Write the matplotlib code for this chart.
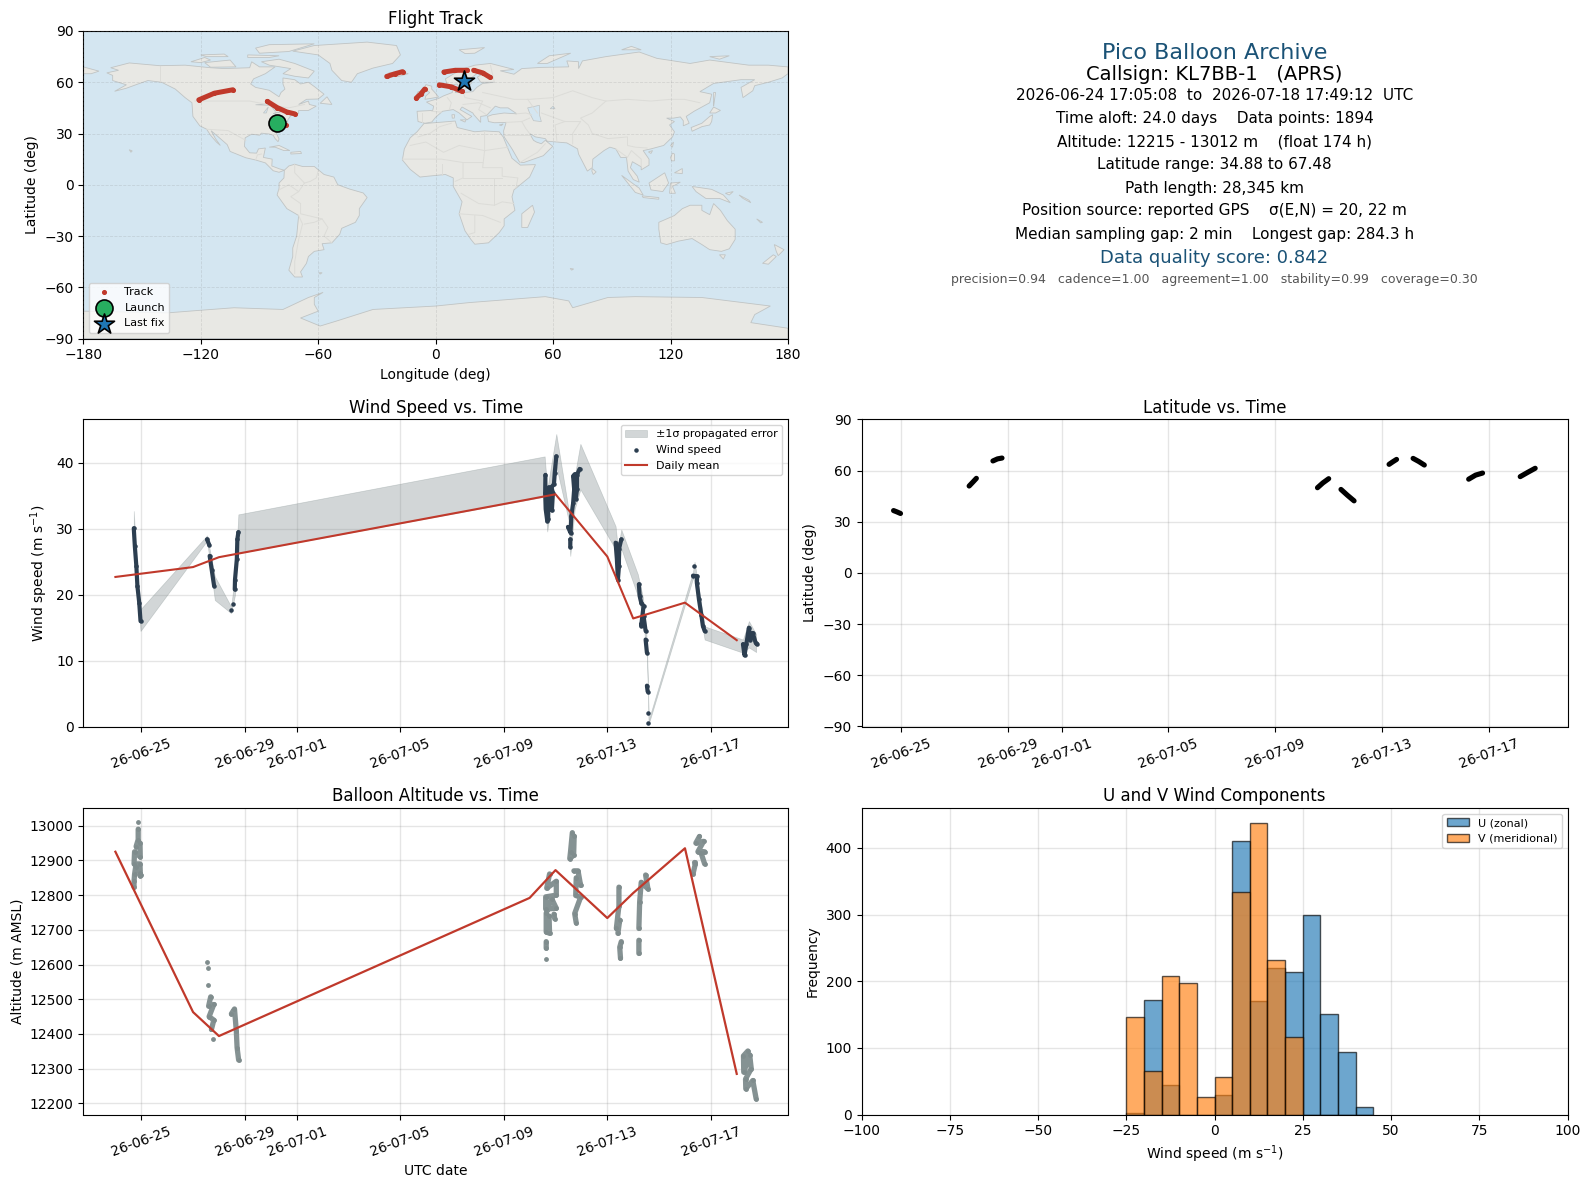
from datetime import datetime
import numpy as np
import matplotlib
matplotlib.use("Agg")
import matplotlib.pyplot as plt
import matplotlib.dates as mdates

nan = float("nan")
RED = "#c0392b"
NAVY = "#2c3e50"
GREY = "#7f8c8d"
TITLE_BLUE = "#1a5276"

# times are days since 2026-06-24 00:00, nan breaks a run of fixes
wind_t = [0.71, 0.75, 0.81, 0.85, 0.92, 0.97, nan,
          3.54, 3.62, nan, 3.64, 3.72, 3.81, nan,
          4.47, nan, 4.55, nan, 4.61, 4.62, 4.69, 4.71, 4.75, nan,
          16.61, 16.60, 16.62, 16.68, 16.72, 16.70, 16.66, 16.74, 16.80, 16.78, 16.86, 16.90, 16.84, 16.94, 16.97, 17.03, nan,
          17.57, 17.57, nan, 17.48, 17.58, 17.61, 17.68, 17.72, 17.68, 17.74, 17.78, 17.83, 17.83, 17.93, nan,
          19.32, 19.37, 19.41, 19.45, 19.45, 19.54, nan,
          20.22, 20.25, 20.31, 20.40, 20.31, 20.40, 20.48, nan, 20.48, 20.53, nan,
          20.53, 20.56, nan, 20.57, nan, 20.59, nan,
          22.35, nan, 22.31, 22.47, 22.46, 22.54, 22.63, 22.69, 22.76, nan,
          24.24, 24.30, 24.37, 24.47, 24.52, 24.62, 24.73, 24.78]
wind_v = [30.1, 27.4, 24.3, 21.3, 18.8, 16.0, nan,
          28.4, 27.6, nan, 25.9, 23.8, 21.4, nan,
          17.7, nan, 18.6, nan, 20.8, 22.3, 25.4, 28.4, 29.5, nan,
          38.2, 35.5, 33.0, 31.2, 31.5, 34.0, 36.0, 36.3, 33.0, 35.5, 32.8, 35.5, 36.3, 36.8, 38.5, 41.0, nan,
          27.3, 28.4, nan, 30.3, 29.4, 31.9, 33.9, 36.0, 38.0, 38.3, 34.5, 36.0, 38.2, 39.1, nan,
          27.9, 25.4, 22.3, 24.3, 26.9, 28.4, nan,
          21.6, 19.8, 18.8, 18.3, 15.3, 16.8, 14.5, nan, 13.2, 11.2, nan,
          6.2, 5.3, nan, 2.1, nan, 0.6, nan,
          24.4, nan, 22.9, 22.8, 21.8, 19.3, 17.0, 15.3, 14.5, nan,
          12.5, 10.8, 12.5, 15.0, 13.2, 14.2, 12.7, 12.5]

band_t = [0.71, 0.85, 0.97, 3.54, 3.84, 4.47, 4.62, 4.72, 4.75, 16.58, 16.68, 17.03,
          17.50, 17.57, 17.74, 17.96, 19.32, 19.41, 19.54, 20.18, 20.38, 20.50, 20.53,
          20.57, 20.60, 22.31, 22.37, 22.76, 24.24, 24.47, 24.75]
band_lo = [29.0, 20.0, 14.5, 28.2, 19.2, 17.2, 20.0, 27.5, 26.3, 34.9, 29.6, 39.5,
           31.4, 25.9, 33.0, 36.0, 26.9, 22.0, 27.0, 19.8, 16.5, 11.5, 10.5,
           5.0, 0.4, 22.5, 22.0, 13.2, 11.2, 12.0, 11.3]
band_hi = [32.7, 22.5, 17.8, 29.0, 22.8, 18.2, 23.0, 30.0, 32.2, 41.0, 36.0, 44.4,
           33.0, 31.0, 38.0, 42.9, 30.4, 27.0, 29.9, 23.1, 19.5, 14.5, 12.5,
           6.5, 1.0, 23.5, 25.0, 15.2, 13.2, 16.0, 14.0]

mean_days = [0, 3, 4, 16, 17, 19, 20, 22, 24]
wind_mean = [22.7, 24.2, 25.7, 34.5, 35.25, 25.8, 16.4, 18.8, 13.1]
alt_mean = [12925, 12463, 12394, 12792, 12872, 12734, 12806, 12935, 12285]

alt_t = [0.88, nan, 0.88, 0.88, 0.80, 0.95, 0.96, 0.74, 0.72, 0.95, 0.96, 0.78, 0.74, 0.72, 0.72, nan, 0.95, 0.98, nan,
         3.54, nan, 3.58, nan, 3.58, nan, 3.68, 3.60, 3.80, 3.62, 3.80, 3.71, nan, 3.77, nan,
         4.48, 4.60, 4.67, 4.70, 4.76, nan,
         16.77, 16.66, 17.03, 17.03, 16.62, 16.62, 17.03, 16.85, 16.64, 16.64, 16.77, 16.75, nan,
         16.97, 16.94, nan, 16.64, 16.64, nan, 16.64, nan,
         17.65, 17.58, 17.55, 17.70, 17.72, nan, 17.71, 17.87, 17.97, 17.80, 17.78, 17.97, 17.74, 17.80, nan,
         19.45, 19.45, 19.35, 19.48, 19.41, nan, 19.54, 19.48, 19.51, nan,
         20.48, 20.57, 20.31, 20.25, 20.22, nan, 20.22, 20.22, nan,
         22.56, 22.42, 22.72, 22.50, 22.76, 22.63, 22.76, nan, 22.37, 22.40, 22.31, nan,
         24.43, 24.26, 24.27, 24.50, 24.56, 24.34, 24.35, 24.62, 24.75]
alt_v = [13011, nan, 12990, 12960, 12940, 12950, 12910, 12925, 12890, 12890, 12865, 12880, 12860, 12840, 12823, nan, 12856, 12858, nan,
         12606, nan, 12591, nan, 12540, nan, 12507, 12480, 12485, 12450, 12440, 12413, nan, 12385, nan,
         12458, 12472, 12409, 12361, 12325, nan,
         12861, 12820, 12840, 12800, 12795, 12760, 12762, 12790, 12748, 12694, 12690, 12740, nan,
         12732, 12745, nan, 12666, 12647, nan, 12616, nan,
         12980, 12925, 12905, 12915, 12970, nan, 12870, 12870, 12828, 12850, 12799, 12794, 12747, 12720, nan,
         12823, 12770, 12704, 12728, 12690, nan, 12666, 12650, 12618, nan,
         12858, 12818, 12837, 12780, 12704, nan, 12670, 12632, nan,
         12969, 12950, 12955, 12925, 12925, 12920, 12890, nan, 12894, 12890, 12861, nan,
         12351, 12337, 12290, 12340, 12300, 12270, 12242, 12266, 12213]

lat_t = [0.71, 0.84, 0.97, nan, 3.54, 3.68, 3.81, nan, 4.43, 4.60, 4.77, nan,
         16.58, 16.78, 17.0, nan, 17.46, 17.70, 17.95, nan,
         19.26, 19.40, 19.54, nan, 20.16, 20.37, 20.58, nan,
         22.24, 22.50, 22.76, nan, 24.17, 24.45, 24.73]
lat_v = [36.6, 35.8, 34.9, nan, 51.0, 53.3, 55.5, nan, 65.7, 66.9, 67.4, nan,
         50.0, 52.8, 55.3, nan, 49.0, 45.6, 42.3, nan,
         63.7, 65.2, 66.6, nan, 67.2, 65.4, 63.3, nan,
         55.0, 57.4, 58.6, nan, 56.5, 59.0, 61.4]

track_lon = [-76.6, nan, -86, -81, -76, -72, nan, -121, -113, -103.6, nan, -25, -21, -16.9, nan,
             -9.9, -7.5, -5.6, nan, 1.9, 8, 13.6, nan, 4.2, 10, 16, nan, 19.4, 24, 27.6]
track_lat = [34.9, nan, 48.8, 45.2, 42.6, 41.5, nan, 49.7, 53.6, 55.6, nan, 63.4, 64.9, 66.2, nan,
             50.7, 53.3, 56, nan, 58.5, 57.3, 54.6, nan, 66, 67, 67, nan, 67, 65.5, 63]
launch_lon, launch_lat = -81.3, 36.0
last_lon, last_lat = 14.3, 60.5

hist_edges = [-25, -20, -15, -10, -5, 0, 5, 10, 15, 20, 25, 30, 35, 40]
u_counts = [3, 172, 45, 0, 0, 30, 411, 171, 220, 214, 300, 151, 94, 11]
v_counts = [146, 66, 208, 198, 27, 57, 334, 438, 232, 117, 0, 0, 0, 0]

info_lines = ["Pico Balloon Archive", "Callsign: KL7BB-1   (APRS)",
              "2026-06-24 17:05:08  to  2026-07-18 17:49:12  UTC",
              "Time aloft: 24.0 days    Data points: 1894",
              "Altitude: 12215 - 13012 m    (float 174 h)",
              "Latitude range: 34.88 to 67.48",
              "Path length: 28,345 km",
              "Position source: reported GPS    \u03c3(E,N) = 20, 22 m",
              "Median sampling gap: 2 min    Longest gap: 284.3 h",
              "Data quality score: 0.842",
              "precision=0.94   cadence=1.00   agreement=1.00   stability=0.99   coverage=0.30"]

# rough coastlines, lon/lat pairs
land = [
    [(-168,65.5),(-162,67),(-166,68.5),(-156.5,71.3),(-141,69.7),(-128,70),(-115,68.5),(-108,68),(-95,68.5),(-94,72),(-90,69),(-82,69),(-87,65),(-93,62),(-94.5,59),(-92,57),(-85,55.3),(-82,53),(-80,51.5),(-79,54),(-77,56),(-78,59),(-78,62.5),(-72,61.5),(-69,59),(-65,60),(-62,57.5),(-57,53),(-60,50.2),(-66,50),(-70,47),(-65,49),(-64.5,47),(-61,46),(-65,43.5),(-70,43.5),(-70,41.7),(-74,40.5),(-75.5,38),(-76,35.2),(-78,33.8),(-81,32),(-81.3,30),(-80,26.8),(-80.5,25.2),(-82,27),(-83,29),(-85,29.7),(-89,30.2),(-90,29),(-94,29.6),(-97.3,27.5),(-97.7,22.5),(-95,18.7),(-91.5,18.5),(-90.5,21),(-87,21.5),(-88,16),(-83.5,15),(-83.7,11),(-79.8,9.3),(-77.3,8.5),(-80,7.3),(-83,8.2),(-87,12.8),(-92,14.5),(-97,15.8),(-105,19.5),(-106.5,23.5),(-112,29),(-114.7,31.6),(-112.5,27),(-110,23),(-112,25),(-115,29),(-117,32.5),(-120.5,34.5),(-124,40),(-124.5,48),(-128,51),(-133,56),(-140,60),(-147,61),(-152,59),(-158,56.5),(-164,54.7),(-158,58.5),(-165,61),(-165,64)],
    [(-73,78.2),(-62,81.5),(-35,83.5),(-20,81.5),(-18,76),(-22,71),(-32,68.3),(-40,65),(-43,60),(-48,61),(-53,67),(-54,71),(-60,76)],
    [(-80,73.5),(-72,71),(-62,66.5),(-65,62.5),(-72,63.5),(-78,65),(-74,68),(-85,70),(-89,72)],
    [(-118,71.5),(-105,73),(-102,69),(-115,68.8)],
    [(-90,77),(-75,78),(-62,82.5),(-85,82),(-92,80)],
    [(-125,72),(-118,74.5),(-115,73),(-120,71.5)],
    [(-96,76),(-80,75.5),(-85,74.5),(-96,74.5)],
    [(-120,76),(-108,76.5),(-106,75),(-117,75)],
    [(-59,47.7),(-55.5,51.5),(-53,47)],
    [(-85,22),(-80,23),(-74.5,20),(-77.5,20),(-82,22)],
    [(-74,19),(-69,19.5),(-68.5,18.3),(-74,18)],
    [(-156.5,20.5),(-155,19.8),(-155.7,19)],
    [(-77.3,8.5),(-75,11),(-72,12),(-68,10.7),(-62,10.7),(-57,6),(-52,4.5),(-50,0),(-44,-2.5),(-37,-4.8),(-35,-7.5),(-39,-14),(-39,-18),(-41,-22),(-48,-25.5),(-49,-29),(-53,-34),(-58,-34.5),(-57,-38),(-62,-39),(-65,-42),(-66,-46),(-69,-51),(-68,-54),(-72,-54),(-75,-50),(-73,-42),(-73,-37),(-71,-30),(-70,-18),(-76,-14),(-81,-6),(-80,-2),(-80,1),(-77.5,4)],
    [(-6,35.8),(10,37.3),(11,33.5),(20,31),(25,31.5),(32.5,31),(34.5,28),(37,21),(39,15.5),(43.3,11.5),(51,11.8),(48,4.5),(40,-3),(39,-7),(40.5,-15),(35,-20),(35,-24),(32.5,-28),(27,-34),(20,-34.8),(18,-32),(15,-27),(12,-17),(13.5,-10),(9,-1),(9,4),(5,6),(-4,5),(-8,4.5),(-13,9),(-17,14.5),(-16,21),(-13,27.5),(-9.5,31)],
    [(-9,37),(-9.5,43),(-1.5,43.5),(-1,46),(-4.7,48.4),(1.5,50.5),(4,52),(8.5,54),(8.5,57),(10.8,56),(10,54),(14,54),(19,54.5),(21,57),(24,59.3),(30,60),(23,60),(21.3,63),(25,65.5),(22,65.8),(17.5,62),(18.5,60),(16.5,56.5),(13,55.5),(11,59),(6,58),(5,62),(13,67.5),(20,70),(28,71),(40,67.5),(33,66.7),(40,64.7),(44,68),(54,68.7),(68,69),(67,72.5),(73,72),(73,68),(75,72.5),(87,75),(104,77.7),(113,74),(130,71),(140,73),(160,70),(170,70),(180,69),(180,65),(177,62.5),(170,60),(163,58),(162,55),(157,51),(156,57),(163,61.5),(156,61.5),(142,59.3),(135,54.5),(141,53),(140,48),(132,43),(128,40),(129.5,36),(126.5,34.5),(126.5,37.5),(125,39.7),(121.5,39),(118,39),(122,37),(119.5,35),(122,31),(121,28),(116.5,23),(110,21),(106,20),(109,15),(109,11.5),(105,8.7),(105,10.5),(100.5,13.5),(99.5,10),(103,5),(104,1.5),(101,3),(98.3,8),(97.5,16),(94.5,16),(92,21),(89,22),(86,20),(80.3,15),(80,10),(77.5,8),(73,18),(72.5,21),(67,24.5),(57,25.5),(56,27),(51,28),(48,30),(50,26),(51.5,25),(54,24),(56,26),(59.8,22.5),(55,17),(45,13),(43,13),(39,21),(35,28),(34.7,31.5),(36,36.5),(30,36.3),(27,37),(26.5,40),(29,41),(35,42),(41.5,41.5),(37,45),(33,45),(30.5,46),(28,43),(26,40.5),(23,40),(23,36.5),(19.5,41),(19,42),(13.5,45.5),(12.5,44),(18.5,40),(16,38),(12,42),(9,44),(3.5,43),(0,39.5),(-2,36.7),(-5.5,36)],
    [(-180,69),(-172,66.5),(-176,65),(-180,65)],
    [(-5.5,50),(1.5,51.3),(0,53.5),(-2,56),(-2,57.7),(-5,58.6),(-6,56),(-3,54),(-5,52)],
    [(-10,52),(-6,52.2),(-6,55),(-9,54.5)],
    [(-24,65.5),(-18,66.3),(-14,65),(-19,63.4),(-23,64)],
    [(12,79),(25,80.3),(20,77),(15,76.8)],
    [(52,71),(57,71),(69,77),(58,75.5)],
    [(95,79),(105,79),(100,81)],
    [(140,75),(150,75.5),(145,73.5)],
    [(12.5,38),(15.5,38),(15,36.7)],
    [(8.3,41),(9.7,41),(9.5,39),(8.5,39)],
    [(32.5,35),(34.5,35.6),(33.5,34.6)],
    [(49.5,-12),(50.5,-16),(47,-25),(44,-25),(44,-17)],
    [(80,9.5),(82,7.5),(80.5,6),(79.8,8)],
    [(130.5,33.5),(136,36),(140,40),(141.5,41),(141,37),(140,35),(136,34),(131,31.3)],
    [(140,42),(142,45.5),(145.5,43.5),(143,42)],
    [(142,46),(143,54),(142,54),(142,49)],
    [(120,23),(121.5,25),(121,22)],
    [(108.7,19.2),(110.8,20),(110,18.3)],
    [(120,16),(121,18.5),(122,18),(122,14),(120.5,14)],
    [(122,7),(126,9.5),(126,6.5)],
    [(109,1),(117,7),(119,1),(116,-4),(110,-3)],
    [(95,5.5),(104,-2),(106,-6),(102,-4.5)],
    [(105.5,-6.5),(114,-7.5),(114,-8.5),(106,-7.5)],
    [(119.5,-5),(120,1),(125,1.5),(121,-1),(122.5,-5)],
    [(131,-1),(141,-2.7),(147,-6),(150.5,-10.5),(145,-8),(138,-8),(133,-4)],
    [(148,-5),(152,-4),(150,-6)],
    [(155,-6),(160,-9),(161,-10.5),(157,-8)],
    [(114,-22),(122,-18),(126,-14),(130,-12),(136,-12),(136,-15),(140,-17.5),(142,-11),(145.5,-15),(149,-21),(153,-26),(153,-32),(150,-37.5),(146,-39),(140,-38),(136,-35),(131,-31.5),(124,-33),(118,-35),(115,-34),(114,-26)],
    [(145,-41),(148,-41),(147,-43.5)],
    [(173,-35),(178,-38),(175,-41.5),(174,-39)],
    [(172.5,-41),(174,-42),(170,-46.5),(167,-46)],
    [(164,-20),(167,-22),(166,-22.3)],
    [(-59.5,-51.5),(-58,-51.5),(-59,-52.3)],
    [(68.7,-49),(70.5,-49.3),(69.5,-50)],
    [(-180,-90),(-180,-74),(-137,-75),(-120.4,-73.5),(-103,-72),(-78,-73),(-65,-66),(-57.5,-63),(-62,-66),(-62,-70),(-60,-74),(-69,-78),(-59,-82.7),(-50.7,-79.8),(-32,-73),(0,-71),(17,-69),(56,-65.5),(68,-68),(70,-72),(88,-66),(102,-65.5),(136,-66),(171,-71),(163,-76),(161,-80.7),(180,-84),(180,-90)],
]
lakes = [
    [(47,45),(53,46.5),(53,41),(54,37),(50,37.5),(48,42)],
    [(-92,46.8),(-85,47.5),(-85,46.5)],
    [(-88,42),(-85.5,45.5),(-86.5,42)],
    [(-84,46),(-80,45),(-82,43)],
    [(-83,41.7),(-79,42.8),(-79,43.5),(-76,44),(-78,43)],
    [(60,46),(61,44.5),(58.5,44.5)],
]
borders = [
    [(-123,49),(-95,49),(-84,46.5),(-75,45),(-67,47)],
    [(-141,69.7),(-141,60)],
    [(-117,32.5),(-106,31.7),(-97,26)],
    [(-92,14.5),(-91,17.5),(-89,18)],
    [(-72,12),(-72,7),(-67,1),(-70,-4),(-74,-7),(-69,-11),(-69,-17),(-58,-20),(-55,-25),(-57,-30),(-53,-34)],
    [(-60,8),(-61,4),(-64,2),(-67,1)],
    [(-80,-3),(-75,0),(-70,-4)],
    [(-70,-18),(-68,-23),(-70,-32),(-72,-45),(-72,-52)],
    [(-58,-20),(-62,-22),(-67,-23)],
    [(-9,28),(-3,30),(2,34),(8,36)],
    [(-13,23),(-5,25),(4,19),(12,23),(25,20),(37,22)],
    [(25,31),(25,20),(24,10),(34,10),(34,5),(42,4),(41,-2)],
    [(-17,15),(-5,15),(3,15),(14,13),(24,13)],
    [(3,6),(3,12)], [(14,13),(14,4),(10,2)],
    [(14,4),(18,4),(30,4),(34,4)], [(13,-5),(22,-11),(30,-12),(34,-10),(40,-11)],
    [(30,4),(30,-8),(30,-12)], [(12,-17),(24,-18),(33,-22)], [(20,-18),(20,-28),(17,-29)],
    [(14,54),(15,51),(24,49),(22,44),(26,41)],
    [(6,51),(8,48),(7,44)], [(-2,43),(3,42.5)], [(-7,37),(-7,42)], [(14,47),(22,48),(28,45)],
    [(28,70),(30,60)], [(24,54),(32,52),(40,50),(48,50),(60,51),(70,55),(80,51),(87,49),(98,50),(110,49),(120,50),(127,50),(135,48)],
    [(87,49),(80,42),(74,39),(78,35),(80,30),(88,27),(98,28),(98,23),(102,22),(108,21.5)],
    [(47,50),(52,42)], [(54,42),(66,37),(74,37)], [(62,25),(61,35),(66,37)], [(74,37),(70,30),(70,24)],
    [(36,36.5),(44,37),(46,33),(48,30)], [(44,37),(48,39)], [(35,29),(44,29),(48,29)], [(43,13),(52,19),(56,24)],
    [(92,21),(98,16),(100,20),(105,15),(105,11)], [(41,41.5),(46,42),(49,41)],
]


def to_date(days):
    start = mdates.date2num(datetime(2026, 6, 24))
    return start + np.array(days, dtype=float)


def add_axes(fig, x0, y0, x1, y1):
    W, H = 1590.0, 1189.0
    return fig.add_axes([x0 / W, 1 - y1 / H, (x1 - x0) / W, (y1 - y0) / H])


def style_dates(ax, xlim):
    ax.set_xlim(to_date([xlim[0]])[0], to_date([xlim[1]])[0])
    ax.xaxis.set_major_locator(mdates.DayLocator(bymonthday=[1, 5, 9, 13, 17, 21, 25, 29]))
    ax.xaxis.set_major_formatter(mdates.DateFormatter("%y-%m-%d"))
    ax.tick_params(axis="x", labelrotation=20)
    ax.grid(True, color="gray", alpha=0.2, lw=1)
    ax.set_axisbelow(True)


fig = plt.figure(figsize=(15.9, 11.89), dpi=100)
left_x = (83.3, 788)
right_x = (861.5, 1567.5)

# flight track map
ax = add_axes(fig, left_x[0], 31, left_x[1], 338.5)
ax.set_facecolor("#d4e6f1")
for poly in land:
    ax.fill(*zip(*poly), facecolor="#e8e8e4", edgecolor="#c0c4c4", lw=0.6, zorder=1)
for poly in lakes:
    ax.fill(*zip(*poly), facecolor="#d4e6f1", edgecolor="#c0c4c4", lw=0.5, zorder=1.1)
for line in borders:
    ax.plot(*zip(*line), color="#dcdcd8", lw=0.7, zorder=1.2)
ax.grid(True, color="gray", alpha=0.2, lw=0.6, ls="--", zorder=1.5)
ax.set_axisbelow(False)
ax.plot(track_lon, track_lat, color=RED, lw=3.6, solid_capstyle="round", zorder=3)
ax.scatter(track_lon, track_lat, s=7, color=RED, zorder=3, label="Track")
ax.scatter(launch_lon, launch_lat, s=150, color="#27ae60", edgecolor="black", lw=1.2, zorder=4, label="Launch")
ax.scatter(last_lon, last_lat, s=230, marker="*", color="#1f77b4", edgecolor="black", lw=1.2, zorder=5, label="Last fix")
ax.set_xlim(-180, 180)
ax.set_ylim(-90, 90)
ax.set_xticks(range(-180, 181, 60))
ax.set_yticks(range(-90, 91, 30))
ax.set_title("Flight Track", fontsize=12, pad=5)
ax.set_xlabel("Longitude (deg)")
ax.set_ylabel("Latitude (deg)")
ax.legend(loc="lower left", fontsize=8, framealpha=0.8)

# text panel
sizes = [16, 14, 11, 11, 11, 11, 11, 11, 11, 13, 9]
ypos = [53, 75, 95.5, 119, 142, 164.6, 188, 211, 234.7, 258, 279.4]
colors = [TITLE_BLUE, "black"] + ["black"] * 7 + [TITLE_BLUE, "#555555"]
for txt, size, yp, col in zip(info_lines, sizes, ypos, colors):
    fig.text(1214.5 / 1590, 1 - yp / 1189, txt, fontsize=size, color=col, ha="center", va="center")

# wind speed
ax = add_axes(fig, left_x[0], 419.5, left_x[1], 726.5)
ax.fill_between(to_date(band_t), band_lo, band_hi, color=GREY, alpha=0.35, lw=0.5, label="\u00b11\u03c3 propagated error")
ax.plot(to_date(wind_t), wind_v, color=NAVY, lw=3.0, solid_capstyle="round")
ax.scatter(to_date(wind_t), wind_v, s=5, color=NAVY, label="Wind speed")
ax.plot(to_date(mean_days), wind_mean, color=RED, lw=1.5, label="Daily mean")
ax.set_ylim(0, 46.6)
style_dates(ax, (-1.24, 25.98))
ax.set_title("Wind Speed vs. Time", fontsize=12, pad=5)
ax.set_ylabel("Wind speed (m s$^{-1}$)")
ax.legend(loc="upper right", fontsize=8)

# latitude
ax = add_axes(fig, right_x[0], 419.5, right_x[1], 726.5)
ax.plot(to_date(lat_t), lat_v, color="black", lw=3.7, solid_capstyle="round")
ax.set_ylim(-90, 90)
ax.set_yticks(range(-90, 91, 30))
style_dates(ax, (-0.49, 25.94))
ax.set_title("Latitude vs. Time", fontsize=12, pad=5)
ax.set_ylabel("Latitude (deg)")

# altitude
ax = add_axes(fig, left_x[0], 808, left_x[1], 1114.5)
ax.plot(to_date(alt_t), alt_v, color=GREY, lw=3.8, solid_capstyle="round", alpha=0.95)
ax.scatter(to_date(alt_t), alt_v, s=6, color=GREY)
ax.plot(to_date(mean_days), alt_mean, color=RED, lw=1.6)
ax.set_ylim(12168, 13051)
ax.set_yticks(range(12200, 13001, 100))
style_dates(ax, (-1.24, 25.98))
ax.set_title("Balloon Altitude vs. Time", fontsize=12, pad=5)
ax.set_xlabel("UTC date")
ax.set_ylabel("Altitude (m AMSL)")

# u and v histogram
ax = add_axes(fig, right_x[0], 808, right_x[1], 1114.5)
ax.bar(hist_edges, u_counts, width=5, align="edge", color="#1f77b4", edgecolor="black", alpha=0.65, label="U (zonal)")
ax.bar(hist_edges, v_counts, width=5, align="edge", color="#ff7f0e", edgecolor="black", alpha=0.65, label="V (meridional)")
ax.set_xlim(-100, 100)
ax.set_ylim(0, 460)
ax.grid(True, color="gray", alpha=0.2, lw=1)
ax.set_axisbelow(True)
ax.set_title("U and V Wind Components", fontsize=12, pad=5)
ax.set_xlabel("Wind speed (m s$^{-1}$)")
ax.set_ylabel("Frequency")
ax.legend(loc="upper right", fontsize=8)

fig.savefig("out.png", dpi=100)
